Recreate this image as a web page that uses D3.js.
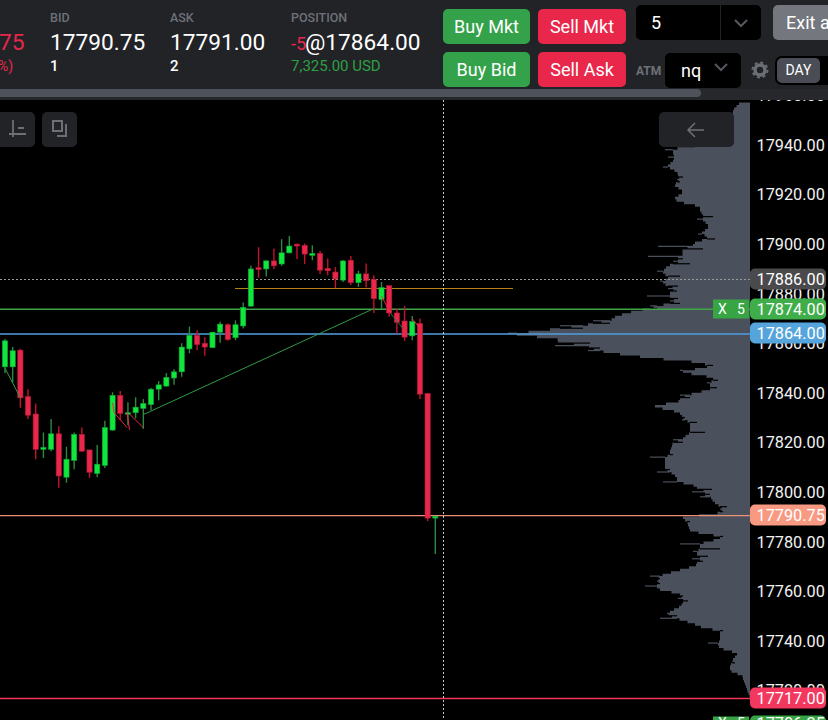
<!DOCTYPE html>
<html>
<head>
<meta charset="utf-8">
<script src="https://cdn.jsdelivr.net/npm/d3@7"></script>
<style>
  html, body { margin: 0; padding: 0; background: #000; overflow: hidden; }
  svg { display: block; font-family: Roboto, sans-serif; }
</style>
</head>
<body>
<svg id="chart" width="828" height="720"></svg>
<script>
// candles, oldest first
const candleOpen = [17850.5,17850.5,17857.25,17838.5,17831.5,17817.25,17817.25,17823.5,17806,17812.75,17823.25,17817,17807.5,17810.75,17825,17839,17831.5,17832,17833.75,17835.25,17841.5,17842.75,17846,17848.5,17857.75,17863.25,17860,17858.25,17864.5,17867.5,17862.25,17867,17875,17890.5,17890,17893.25,17892,17896.5,17900,17899.5,17895.5,17896.25,17890.25,17888.75,17885.5,17893.5,17884.5,17888,17885.75,17877.75,17883.25,17872.25,17869,17863,17868,17839.75,17789.5];
const candleClose = [17861,17857,17838,17831,17817.25,17818,17823.5,17806.5,17813.25,17823.25,17816.5,17808,17811.25,17826,17839,17831.75,17832,17834.25,17835.75,17841.5,17843.25,17846.25,17848.5,17858.5,17863.25,17859.5,17858.5,17864.5,17867.75,17861.5,17867.5,17874.5,17890,17889.75,17893.25,17891.25,17896.5,17899.25,17899.25,17896,17896.25,17889.5,17889.25,17886,17893.25,17884.5,17888,17885.25,17878,17882.5,17872.25,17868.5,17862.5,17868.75,17839.5,17789.5,17790.25];
const candleHigh = [17861.75,17858.5,17857.75,17841.5,17835.75,17824,17829.5,17826.5,17818.25,17824,17826,17817,17819,17828.75,17840.25,17840.75,17836.25,17838.25,17837.5,17842,17844.75,17848,17849.5,17860,17866.75,17865.25,17862.5,17864.5,17868.75,17868,17869.25,17876.5,17891.25,17898.75,17893.5,17898.25,17902,17903.25,17900.25,17900.25,17899.5,17897.25,17894.25,17890.75,17893.5,17895.25,17889.25,17892.25,17887.5,17884.75,17883.25,17874,17875,17871,17870,17840,17790.25];
const candleLow = [17848,17844.25,17834,17829.5,17813.25,17813.75,17816.5,17801.75,17803.75,17809.25,17816.25,17805.75,17806,17809.75,17824.75,17829,17827,17829.75,17825.5,17833,17837,17842.5,17843.25,17846.5,17856,17857.25,17855,17858.25,17860.25,17861,17861.25,17866,17874.75,17886.5,17887,17890,17891.25,17896.25,17894,17892,17893.5,17888,17887.5,17882.25,17884.75,17883.5,17882.75,17882.5,17872.25,17873.75,17870.75,17864,17861,17861.25,17837.5,17788.25,17775];

// volume at price, from 17958 downward, one value per point
const profileTop = 17958;
const profileVolume = [10,12,15,17,17,18,20,22,24,26,28,30,32,34,36,38,40,42,68,85,77,75,82,75,77,82,87,78,73,72,67,73,70,75,77,68,67,68,75,75,72,60,50,50,52,47,37,53,47,42,42,40,48,52,43,35,53,57,92,47,68,67,102,67,77,60,83,85,93,87,70,82,90,87,72,82,73,80,103,72,80,70,100,93,115,123,133,137,157,140,190,167,210,242,233,193,192,160,195,150,162,143,117,103,70,47,37,43,70,67,50,37,32,43,40,33,40,57,70,60,70,73,95,95,80,72,68,65,68,53,60,62,60,45,62,67,77,67,78,78,82,80,77,100,85,83,87,85,80,93,77,73,73,87,60,53,38,58,40,50,37,38,33,23,30,27,35,67,68,60,63,62,60,60,43,27,30,43,70,50,30,57,53,42,58,47,53,55,67,73,85,100,90,93,90,105,93,87,70,67,72,62,67,70,72,80,83,73,90,68,57,53,45,27,30,30,30,30,42,32,30,23,13,12,17,18,15,20,20,20,17,7,8,7,5,5,3,3,2,1,0,0,0];

const axisTicks = [17960,17940,17920,17900,17880,17860,17840,17820,17800,17780,17760,17740,17720];

// price levels: label, line colour, label colour
const levelPrice = [17886,17874,17864,17790.75,17717,17706.25];
const levelColor = ["#8a8a8a","#3fa648","#4f9fe0","#f08f78","#f0345a","#38a545"];
const levelFill = ["#4a4a4d","#3fae4a","#55a5dc","#f89a82","#f2385f","#38a545"];

// fills drawn between candles: [index, price, index, price]
const greenTrades = [[18,17831.25,48,17874],[0,17850,2,17838]];
const redTrades = [[14,17836,14.2,17832],[14.2,17832,15.9,17826],[15.9,17832,16.2,17825],[16.2,17831.5,18,17826],[49,17879,50.2,17872],[53,17870,54,17866]];
const darkTrades = [[50.2,17872,51.8,17866]];

const svg = d3.select("#chart");
const x = d3.scaleLinear().domain([0, 56]).range([5, 435.3]);
const y = d3.scaleLinear().domain([17940, 17790.75]).range([146, 516]);
const vol = d3.scaleLinear().domain([0, 250]).range([750, 500]);

// profile: solid body, then the one-row spikes and notches on top of it
const binMid = i => y(profileTop - i) + 1.24;
const body = profileVolume.map((d, i) => d3.median([profileVolume[i - 1] ?? d, d, profileVolume[i + 1] ?? d]));
svg.append("path").datum(body)
  .attr("fill", "#4a505c")
  .attr("d", d3.area().x0(750).x1(d => vol(d)).y((d, i) => binMid(i)).curve(d3.curveStep));
const spikes = svg.append("g");
profileVolume.forEach((d, i) => {
  if (Math.abs(d - body[i]) < 3) return;
  spikes.append("line")
    .attr("x1", vol(d)).attr("x2", vol(body[i]))
    .attr("y1", binMid(i)).attr("y2", binMid(i))
    .attr("stroke", d > body[i] ? "#4a505c" : "#000")
    .attr("stroke-width", 1.2);
});

// static levels
svg.append("line").attr("x1", 0).attr("x2", 750).attr("y1", 279.5).attr("y2", 279.5)
  .attr("stroke", "#9a9a9a").attr("stroke-dasharray", "2 2");
svg.append("line").attr("x1", 235).attr("x2", 513).attr("y1", 288.5).attr("y2", 288.5)
  .attr("stroke", "#b8820e").attr("stroke-width", 1.2);

levelPrice.slice(1, 5).forEach((p, i) => {
  svg.append("line").attr("x1", 0).attr("x2", 750)
    .attr("y1", y(p) - 0.4).attr("y2", y(p) - 0.4)
    .attr("stroke", levelColor[i + 1]).attr("stroke-width", 1.4);
});

svg.append("line").attr("x1", 443.5).attr("x2", 443.5).attr("y1", 100).attr("y2", 720)
  .attr("stroke", "#c8c8c8").attr("stroke-dasharray", "2 2");

// candles
const candles = svg.append("g").attr("transform", "translate(0,-1)");
const isUp = i => candleClose[i] >= candleOpen[i];
const idx = d3.range(candleOpen.length);

candles.selectAll("line.wick").data(idx).join("line")
  .attr("class", "wick")
  .attr("x1", i => x(i)).attr("x2", i => x(i))
  .attr("y1", i => y(candleHigh[i])).attr("y2", i => y(candleLow[i]))
  .attr("stroke", i => isUp(i) ? "#2b8a3e" : "#c4122f")
  .attr("stroke-width", 1.4);

candles.selectAll("rect.body").data(idx).join("rect")
  .attr("class", "body")
  .attr("x", i => x(i) - 2.6)
  .attr("width", 5.2)
  .attr("y", i => y(Math.max(candleOpen[i], candleClose[i])))
  .attr("height", i => Math.max(1.5, Math.abs(y(candleOpen[i]) - y(candleClose[i]))))
  .attr("fill", i => isUp(i) ? "#10e63c" : "#e8274b")
  .attr("stroke", i => isUp(i) ? "#12a035" : "#b01a38")
  .attr("stroke-width", 0.6);

function drawTrades(list, color) {
  candles.append("g").selectAll("line").data(list).join("line")
    .attr("x1", d => x(d[0])).attr("y1", d => y(d[1]))
    .attr("x2", d => x(d[2])).attr("y2", d => y(d[3]))
    .attr("stroke", color).attr("stroke-width", 1);
}
drawTrades(greenTrades, "#2f9a45");
drawTrades(redTrades, "#e8274b");
drawTrades(darkTrades, "#2f7a3f");

// price axis
const axisG = svg.append("g");
axisG.append("rect").attr("x", 751).attr("y", 90).attr("width", 77).attr("height", 630).attr("fill", "#000");
axisG.selectAll("text").data(axisTicks).join("text")
  .attr("x", 756.5).attr("y", d => y(d) - 1)
  .attr("dy", "0.36em")
  .attr("fill", "#f2f2f2").attr("font-size", 16.3)
  .text(d => d.toFixed(2));

const levelY = (p, i) => Math.round(y(p)) - (i === 5 ? -1 : 1);
const textLift = i => i === 5 ? 3 : 0;
levelPrice.forEach((p, i) => {
  const yy = levelY(p, i);
  axisG.append("rect").attr("x", 750).attr("y", yy - 10.5).attr("width", 76).attr("height", 21).attr("rx", 5)
    .attr("fill", levelFill[i]);
  axisG.append("text").attr("x", 756.5).attr("y", yy - textLift(i)).attr("dy", "0.36em")
    .attr("fill", "#fff").attr("font-size", 16.3).text(p.toFixed(2));
});

// order tags
[1, 5].forEach(i => {
  const yy = levelY(levelPrice[i], i);
  axisG.append("rect").attr("x", 713).attr("y", yy - 9.5).attr("width", 36).attr("height", 19).attr("fill", "#38a545");
  axisG.append("text").attr("x", 718).attr("y", yy - textLift(i)).attr("dy", "0.36em").attr("fill", "#fff").attr("font-size", 14).text("X");
  axisG.append("text").attr("x", 737).attr("y", yy - textLift(i)).attr("dy", "0.36em").attr("fill", "#fff").attr("font-size", 14).text("5");
});

// chart buttons
const tb = svg.append("g");
function chartButton(bx, w) {
  tb.append("rect").attr("x", bx).attr("y", 112).attr("width", w).attr("height", 35).attr("rx", 5).attr("fill", "#212327");
}
chartButton(-20, 55);
chartButton(42, 35);
chartButton(659, 75);
tb.append("path").attr("d", "M13 120v17M9 134h17M18 128h6")
  .attr("stroke", "#6c6f75").attr("stroke-width", 1.8).attr("fill", "none");
tb.append("path").attr("d", "M53 121h9v10h-9zM66 124v12h-9")
  .attr("stroke", "#6c6f75").attr("stroke-width", 2).attr("fill", "none");
tb.append("path").attr("d", "M704 130h-16M695 123l-7 7 7 7")
  .attr("stroke", "#6e7076").attr("stroke-width", 1.5).attr("fill", "none");

// top bar
const bar = svg.append("g");
bar.append("rect").attr("width", 828).attr("height", 89).attr("fill", "#212327");
bar.append("rect").attr("y", 89).attr("width", 828).attr("height", 11).attr("fill", "#26282c");
bar.append("rect").attr("x", -10).attr("y", 89).attr("width", 711).attr("height", 8).attr("rx", 4).attr("fill", "#4e525a");

function label(t, lx, ly, size, color, weight) {
  return bar.append("text").attr("x", lx).attr("y", ly).attr("font-size", size)
    .attr("fill", color).attr("font-weight", weight || 400).text(t);
}
label("75", -1, 50, 22.7, "#e8274b");
label("%)", -2, 71, 14, "#e8274b");
label("BID", 50, 22, 12.5, "#6e7178", 500);
label("17790.75", 50, 50, 22.7, "#fff");
label("1", 50, 71, 15, "#fff", 500);
label("ASK", 170, 22, 12.5, "#6e7178", 500);
label("17791.00", 170, 50, 22.7, "#fff");
label("2", 170, 71, 15, "#fff", 500);
label("POSITION", 291, 22, 12.5, "#6e7178", 500);
label("-5", 291, 50, 18, "#e8274b");
label("@17864.00", 305, 50, 22.7, "#fff");
label("7,325.00 USD", 291, 71, 15, "#2ea043");

function button(t, bx, by, w, h, fill, size, tx) {
  bar.append("rect").attr("x", bx).attr("y", by).attr("width", w).attr("height", h).attr("rx", 5).attr("fill", fill);
  bar.append("text").attr("x", tx === undefined ? bx + w / 2 : tx).attr("y", by + h / 2).attr("dy", "0.35em")
    .attr("text-anchor", tx === undefined ? "middle" : "start")
    .attr("font-size", size).attr("fill", "#fff").text(t);
}
button("Buy Mkt", 443, 9, 87, 35, "#34a24a", 18);
button("Sell Mkt", 538, 9, 88, 35, "#e8274b", 18);
button("Buy Bid", 443, 52, 87, 35, "#34a24a", 18);
button("Sell Ask", 538, 52, 88, 35, "#e8274b", 18);
button("5", 636, 5, 125, 35, "#000", 18, 651);
bar.append("line").attr("x1", 720.5).attr("x2", 720.5).attr("y1", 5).attr("y2", 40).attr("stroke", "#212327");
button("Exit all", 773, 5, 80, 35, "#74777e", 18, 786);
label("ATM", 636, 75, 12, "#6e7178", 700);
button("nq", 665, 53, 76, 35, "#000", 18, 681);
function chevron(cx, cy) {
  bar.append("path").attr("d", `M${cx - 6} ${cy - 3}l6 6l6 -6`).attr("fill", "none")
    .attr("stroke", "#55585e").attr("stroke-width", 2);
}
chevron(741, 23);
chevron(721, 67);
bar.append("circle").attr("cx", 760).attr("cy", 70).attr("r", 5).attr("fill", "none")
  .attr("stroke", "#6c6f75").attr("stroke-width", 3.5);
bar.append("circle").attr("cx", 760).attr("cy", 70).attr("r", 7.5).attr("fill", "none")
  .attr("stroke", "#6c6f75").attr("stroke-width", 2).attr("stroke-dasharray", "3 2.9");
bar.append("rect").attr("x", 775).attr("y", 56).attr("width", 70).attr("height", 29).attr("rx", 7).attr("fill", "#000");
button("DAY", 777, 58, 43, 25, "#4a4d55", 14);
</script>
</body>
</html>
